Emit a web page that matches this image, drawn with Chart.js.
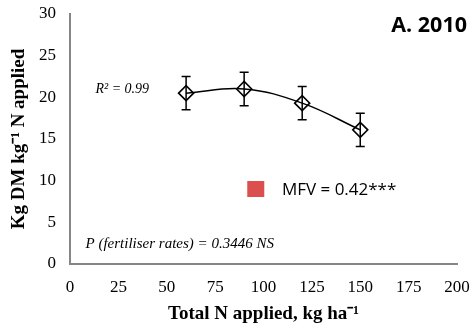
<!DOCTYPE html>
<html><head><meta charset="utf-8">
<script src="https://cdn.jsdelivr.net/npm/chart.js@4.4.1/dist/chart.umd.min.js"></script>
<style>html,body{margin:0;padding:0;background:#fff}#wrap{width:474px;height:331px}</style>
</head><body><div id="wrap"><canvas id="c" width="474" height="331"></canvas></div>
<script>
const nRates = [60, 90, 120, 150];
const dmPerN = [20.5, 21.0, 19.3, 16.1];
const errBars = [2.0, 2.0, 2.0, 2.0];
const yTitle = 'Kg DM kg\u207B\u00B9 N applied';
const xTitle = 'Total N applied, kg ha\u207B\u00B9';
const panelLabel = 'A. 2010';
const r2Text = 'R\u00B2 = 0.99';
const pText = 'P (fertiliser rates) = 0.3446 NS';
const mfvText = 'MFV = 0.42***';

const pts = nRates.map((x, i) => ({x: x, y: dmPerN[i]}));

const errPlugin = {
  id: 'errs',
  afterDatasetsDraw(chart) {
    const ctx = chart.ctx, xs = chart.scales.x, ys = chart.scales.y;
    ctx.save();
    ctx.strokeStyle = '#000'; ctx.lineWidth = 1.5;
    nRates.forEach((x, i) => {
      const px = xs.getPixelForValue(x);
      const t = ys.getPixelForValue(dmPerN[i] + errBars[i]);
      const b = ys.getPixelForValue(dmPerN[i] - errBars[i]);
      ctx.beginPath();
      ctx.moveTo(px, t); ctx.lineTo(px, b);
      ctx.moveTo(px - 4.5, t); ctx.lineTo(px + 4.5, t);
      ctx.moveTo(px - 4.5, b); ctx.lineTo(px + 4.5, b);
      ctx.stroke();
    });
    ctx.restore();
  }
};

const annoPlugin = {
  id: 'anno',
  afterDraw(chart) {
    const ctx = chart.ctx, xs = chart.scales.x, ys = chart.scales.y;
    ctx.save();
    ctx.fillStyle = '#000';
    ctx.textBaseline = 'middle';
    ctx.font = 'italic 14px "Liberation Serif"';
    ctx.textAlign = 'center';
    ctx.fillText(r2Text, xs.getPixelForValue(27), ys.getPixelForValue(21.0));
    ctx.font = 'italic 15px "Liberation Serif"';
    ctx.textAlign = 'left';
    ctx.fillText(pText, xs.getPixelForValue(8), ys.getPixelForValue(2.4));
    const sx = xs.getPixelForValue(96), sy = ys.getPixelForValue(9.0);
    ctx.fillStyle = '#dc4f4f';
    ctx.fillRect(sx - 8.5, sy - 8, 17, 16);
    ctx.fillStyle = '#000';
    ctx.font = '17px "Open Sans"';
    ctx.fillText(mfvText, xs.getPixelForValue(109.5), sy + 1);
    ctx.font = 'bold 21.5px "Open Sans"';
    ctx.textAlign = 'right';
    ctx.fillText(panelLabel, chart.width - 7, 26);
    ctx.restore();
  }
};

new Chart(document.getElementById('c'), {
  type: 'scatter',
  data: {
    datasets: [
      {
        type: 'line', data: pts, showLine: true, tension: 0.4,
        borderColor: '#000', borderWidth: 1.5, pointRadius: 0, fill: false
      },
      {
        data: pts, pointStyle: 'rectRot', pointRadius: 7.5,
        backgroundColor: 'rgba(0,0,0,0)', borderColor: '#000', pointBorderWidth: 1.6
      }
    ]
  },
  options: {
    responsive: false, animation: false,
    layout: {padding: {top: 14, right: 17, left: 0, bottom: 0}},
    plugins: {legend: {display: false}, tooltip: {enabled: false}},
    scales: {
      x: {
        type: 'linear', min: 0, max: 200,
        ticks: {stepSize: 25, color: '#000', font: {family: 'Liberation Serif', size: 17}, padding: 13},
        grid: {display: false, drawTicks: false},
        border: {display: true, color: '#868686', width: 2},
        title: {display: true, text: xTitle, color: '#000', font: {family: 'Liberation Serif', size: 19, weight: 'bold'}, padding: {top: 4, bottom: 6}},
        afterFit(s) { s.height = 67; s.paddingLeft = 0; s.paddingRight = 0; }
      },
      y: {
        min: 0, max: 30,
        ticks: {stepSize: 5, color: '#000', font: {family: 'Liberation Serif', size: 17}, padding: 14},
        grid: {display: false, drawTicks: false},
        border: {display: true, color: '#868686', width: 2},
        title: {display: true, text: yTitle, color: '#000', font: {family: 'Liberation Serif', size: 19, weight: 'bold'}, padding: {top: 8, bottom: 2}},
        afterFit(s) { s.width = 70; s.paddingTop = 0; s.paddingBottom = 0; }
      }
    }
  },
  plugins: [errPlugin, annoPlugin]
});
</script></body></html>
